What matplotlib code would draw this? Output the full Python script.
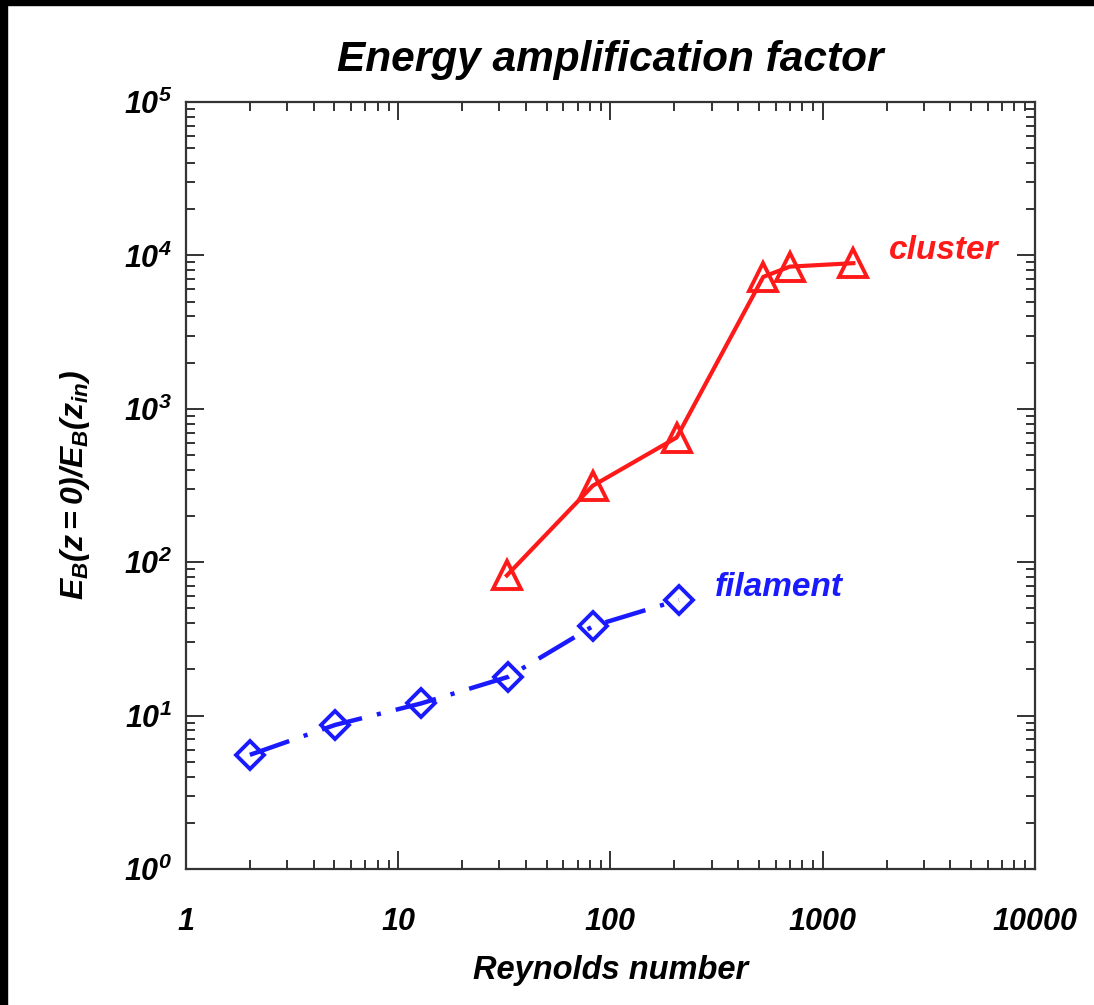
import math
import matplotlib
matplotlib.use("Agg")
import matplotlib.pyplot as plt
from matplotlib.patches import Rectangle
from matplotlib.ticker import LogLocator, FixedLocator, FuncFormatter, NullFormatter

# Data
cluster_re = [32.5, 82.5, 205, 525, 700, 1395]
cluster_amp = [82, 315, 650, 7250, 8450, 8900]

filament_re = [2.0, 5.05, 12.8, 33, 83, 210]
filament_amp = [5.55, 8.7, 12.0, 17.9, 38.4, 56.7]

x_ticks = [1, 10, 100, 1000, 10000]
y_ticks = [1, 10, 100, 1000, 10000, 100000]

plt.rcParams['font.family'] = ['Liberation Sans', 'DejaVu Sans']
plt.rcParams['font.weight'] = 'bold'
plt.rcParams['font.style'] = 'italic'
plt.rcParams['axes.titleweight'] = 'bold'
plt.rcParams['axes.labelweight'] = 'bold'
plt.rcParams['mathtext.fontset'] = 'custom'
plt.rcParams['mathtext.rm'] = 'Liberation Sans:bold:italic'
plt.rcParams['mathtext.it'] = 'Liberation Sans:bold:italic'
plt.rcParams['mathtext.bf'] = 'Liberation Sans:bold:italic'
plt.rcParams['lines.scale_dashes'] = False

red = '#ff1a1a'
blue = '#1a1aff'

fig = plt.figure(figsize=(10.94, 10.05), dpi=100)
ax = fig.add_axes([0.170, 0.1353, 0.776, 0.7632])

ax.plot(cluster_re, cluster_amp, color=red, lw=3.0, marker='^', ms=20,
        mfc='none', mec=red, mew=2.8)
ax.plot(filament_re, filament_amp, color=blue, lw=3.2, marker='D', ms=14.5,
        mfc='none', mec=blue, mew=2.8, dashes=(30, 11, 3, 11))

ax.text(2050, 10800, 'cluster', color=red, fontsize=24, va='center', ha='left')
ax.text(310, 68, 'filament', color=blue, fontsize=24, va='center', ha='left')

ax.set_xscale('log')
ax.set_yscale('log')
ax.set_xlim(1, 10000)
ax.set_ylim(1, 100000)

ax.xaxis.set_major_locator(FixedLocator(x_ticks))
ax.yaxis.set_major_locator(FixedLocator(y_ticks))
ax.xaxis.set_minor_locator(LogLocator(base=10, subs=range(2, 10)))
ax.yaxis.set_minor_locator(LogLocator(base=10, subs=range(2, 10)))
ax.xaxis.set_minor_formatter(NullFormatter())
ax.yaxis.set_minor_formatter(NullFormatter())
ax.xaxis.set_major_formatter(FuncFormatter(lambda v, p: '%d' % round(v)))
ax.yaxis.set_major_formatter(FuncFormatter(lambda v, p: r'$10^{%d}$' % round(math.log10(v))))

ax.tick_params(which='both', direction='in', top=True, right=True, width=1.4, color='#333333')
ax.tick_params(which='major', length=13)
ax.tick_params(which='minor', length=6.5)
ax.tick_params(axis='x', which='major', pad=27, labelsize=22)
ax.tick_params(axis='y', which='major', pad=10, labelsize=22)
for s in ax.spines.values():
    s.set_linewidth(1.6)
    s.set_color('#333333')

ax.set_title('Energy amplification factor', fontsize=30.5, pad=22)
ax.set_xlabel('Reynolds number', fontsize=23.5, labelpad=13)
ax.set_ylabel(r'$E_B(z=0)/E_B(z_{in})$', fontsize=23, labelpad=23)

# black frame remnants on the left and top edges
fig.add_artist(Rectangle((0, 0), 7 / 1094, 1, transform=fig.transFigure, color='black'))
fig.add_artist(Rectangle((0, 1 - 5 / 1005), 1, 5 / 1005, transform=fig.transFigure, color='black'))

fig.savefig('out.png', dpi=100)
